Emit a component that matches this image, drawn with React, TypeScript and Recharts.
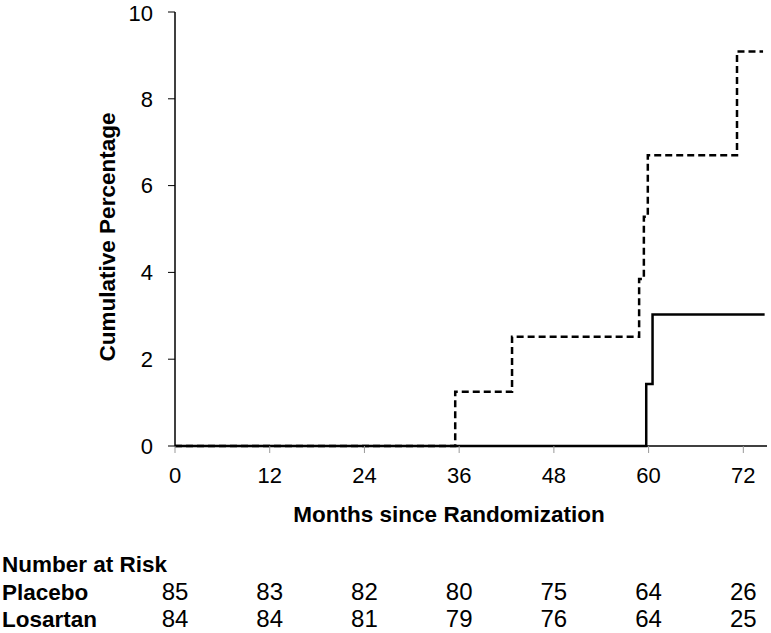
import { LineChart, Line, XAxis, YAxis } from "recharts";

// number at risk table
const riskMonths = [0, 12, 24, 36, 48, 60, 72];
const placeboRisk = [85, 83, 82, 80, 75, 64, 26];
const losartanRisk = [84, 84, 81, 79, 76, 64, 25];

// cumulative percentage curves (step after each event)
const placeboMonths = [0, 35.5, 42.7, 58.8, 59.4, 59.9, 71.2, 74.5];
const placeboPct = [0, 1.25, 2.52, 3.85, 5.28, 6.7, 9.09, 9.09];
const losartanMonths = [0, 59.7, 60.5, 74.7];
const losartanPct = [0, 1.43, 3.03, 3.03];

const xTicks = [0, 12, 24, 36, 48, 60, 72];
const yTicks = [0, 2, 4, 6, 8, 10];

const W = 771;
const H = 633;
const PLOT_LEFT = 175;
const PLOT_RIGHT = 767;
const PLOT_TOP = 12;
const PLOT_BOTTOM = 446;
const X_MAX = 75;
const X_AXIS_H = 40;
const FONT = "'Liberation Sans', Arial, sans-serif";

const placeboData = placeboMonths.map((m, i) => ({ month: m, pct: placeboPct[i] }));
const losartanData = losartanMonths.map((m, i) => ({ month: m, pct: losartanPct[i] }));

const xPos = (m: number) => PLOT_LEFT + (m / X_MAX) * (PLOT_RIGHT - PLOT_LEFT);

export default function App() {
  return (
    <div style={{ position: "fixed", left: 0, top: 0, width: W, height: H, background: "#fff" }}>
      <LineChart
        width={W}
        height={H}
        margin={{ top: PLOT_TOP, right: W - PLOT_RIGHT, left: 0, bottom: H - PLOT_BOTTOM - X_AXIS_H }}
      >
        <XAxis
          dataKey="month"
          type="number"
          domain={[0, X_MAX]}
          ticks={xTicks}
          height={X_AXIS_H}
          axisLine={{ stroke: "#000", strokeWidth: 1.5 }}
          tickLine={{ stroke: "#999" }}
          tickSize={7}
          tickMargin={14}
          tick={{ fontSize: 22, fill: "#000", fontFamily: FONT }}
          allowDataOverflow
        />
        <YAxis
          type="number"
          domain={[0, 10]}
          ticks={yTicks}
          width={PLOT_LEFT}
          axisLine={{ stroke: "#000", strokeWidth: 1.5 }}
          tickLine={{ stroke: "#000" }}
          tickSize={7}
          tickMargin={15}
          tick={{ fontSize: 22, fill: "#000", fontFamily: FONT }}
        />
        <Line
          data={placeboData}
          dataKey="pct"
          type="stepAfter"
          stroke="#000"
          strokeWidth={2.5}
          strokeDasharray="7 4"
          dot={false}
          isAnimationActive={false}
        />
        <Line
          data={losartanData}
          dataKey="pct"
          type="stepAfter"
          stroke="#000"
          strokeWidth={2.5}
          dot={false}
          isAnimationActive={false}
        />
      </LineChart>
      <svg
        width={W}
        height={H}
        style={{ position: "absolute", left: 0, top: 0, pointerEvents: "none" }}
        fontFamily={FONT}
        fontSize={22.5}
      >
        <text
          x={115}
          y={237}
          transform="rotate(-90 115 237)"
          textAnchor="middle"
          fontWeight="bold"
        >
          Cumulative Percentage
        </text>
        <text x={449} y={522} textAnchor="middle" fontWeight="bold">
          Months since Randomization
        </text>
        <text x={2} y={572} fontWeight="bold">
          Number at Risk
        </text>
        <text x={2} y={600} fontWeight="bold">
          Placebo
        </text>
        <text x={2} y={627} fontWeight="bold">
          Losartan
        </text>
        {riskMonths.map((m, i) => (
          <text key={"p" + m} x={xPos(m)} y={600} textAnchor="middle" fontSize={24}>
            {placeboRisk[i]}
          </text>
        ))}
        {riskMonths.map((m, i) => (
          <text key={"l" + m} x={xPos(m)} y={627} textAnchor="middle" fontSize={24}>
            {losartanRisk[i]}
          </text>
        ))}
      </svg>
    </div>
  );
}
